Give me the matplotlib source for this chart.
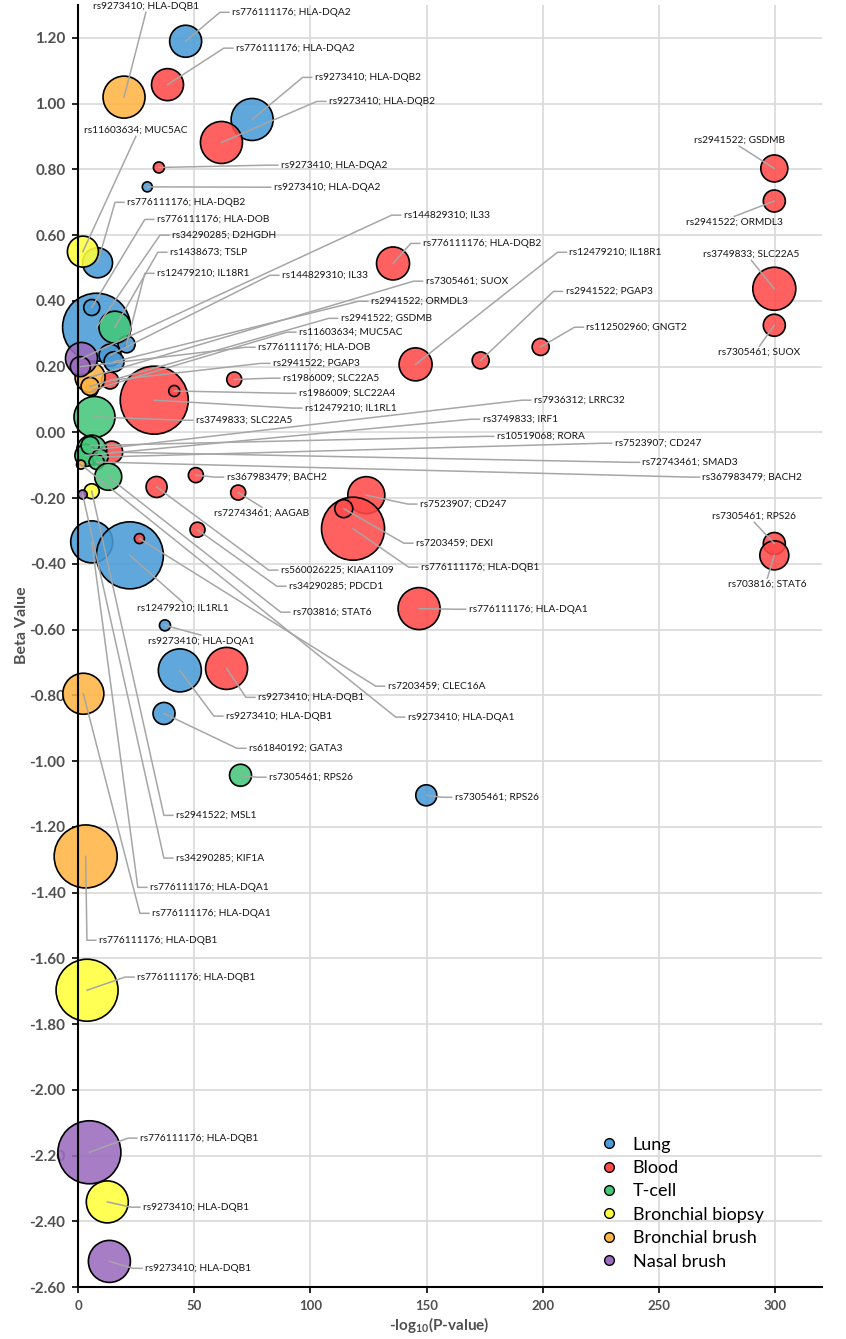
import numpy as np
import matplotlib
matplotlib.use("Agg")
import matplotlib.pyplot as plt
from matplotlib.lines import Line2D

plt.rcParams['font.family'] = ['Lato', 'DejaVu Sans']
plt.rcParams['axes.unicode_minus'] = False
plt.rcParams['mathtext.fontset'] = 'custom'
plt.rcParams['mathtext.rm'] = 'Lato'
plt.rcParams['mathtext.bf'] = 'Lato:bold'

# DATA: -log10(P), beta, bubble size, SNP; gene
tissues = ["Lung", "Blood", "T-cell", "Bronchial biopsy", "Bronchial brush", "Nasal brush"]
colors = ["#4A9BD6", "#FF4A4A", "#45C77A", "#FFFF3C", "#FFB444", "#9B6BBE"]

lung_x = [46.3, 74.9, 29.8, 8.4, 8.0, 5.9, 20.9, 13.8, 15.5, 5.9, 5.9, 22.3, 37.4, 43.8, 37.0, 149.8]
lung_y = [1.19, 0.952, 0.747, 0.516, 0.32, 0.38, 0.268, 0.235, 0.215, 0.128, -0.333, -0.374, -0.587,
          -0.724, -0.855, -1.104]
lung_size = [32, 42, 10, 30, 68, 16, 17, 22, 20, 12, 42, 67, 11, 43, 22, 21]
lung_snp = ["rs776111176; HLA-DQA2", "rs9273410; HLA-DQB2", "rs9273410; HLA-DQA2", "rs776111176; HLA-DQB2",
            "rs34290285; D2HGDH", "rs776111176; HLA-DOB", "rs12479210; IL18R1", "rs144829310; IL33",
            "rs2941522; ORMDL3", "rs11603634; MUC5AC", "rs776111176; HLA-DQA1", "rs12479210; IL1RL1",
            "rs9273410; HLA-DQA1", "rs9273410; HLA-DQB1", "rs61840192; GATA3", "rs7305461; RPS26"]

blood_x = [38.5, 61.7, 34.8, 299.5, 299.5, 299.5, 299.5, 135.5, 145.2, 173.2, 199.0, 67.2, 32.8, 41.4,
           13.8, 50.7, 33.8, 68.9, 51.4, 26.4, 124.0, 118.3, 114.3, 146.7, 63.9, 299.5, 299.5, 14.5]
blood_y = [1.058, 0.882, 0.806, 0.803, 0.704, 0.437, 0.326, 0.514, 0.207, 0.219, 0.260, 0.161, 0.098,
           0.126, 0.158, -0.130, -0.166, -0.183, -0.296, -0.323, -0.191, -0.293, -0.232, -0.536, -0.718,
           -0.338, -0.374, -0.060]
blood_size = [32, 42, 11, 27, 22, 43, 22, 33, 33, 17, 17, 15, 68, 11, 17, 15, 21, 15, 15, 10, 37, 63, 18,
              42, 42, 22, 29, 22]
blood_snp = ["rs776111176; HLA-DQA2", "rs9273410; HLA-DQB2", "rs9273410; HLA-DQA2", "rs2941522; GSDMB",
             "rs2941522; ORMDL3", "rs3749833; SLC22A5", "rs7305461; SUOX", "rs776111176; HLA-DQB2",
             "rs12479210; IL18R1", "rs2941522; PGAP3", "rs112502960; GNGT2", "rs1986009; SLC22A5",
             "rs12479210; IL1RL1", "rs1986009; SLC22A4", "rs2941522; PGAP3", "rs367983479; BACH2",
             "rs560026225; KIAA1109", "rs72743461; AAGAB", "rs34290285; PDCD1", "rs7203459; CLEC16A",
             "rs7523907; CD247", "rs776111176; HLA-DQB1", "rs7203459; DEXI", "rs776111176; HLA-DQA1",
             "rs9273410; HLA-DQB1", "rs7305461; RPS26", "rs703816; STAT6", "rs72743461; SMAD3"]

tcell_x = [15.9, 7.1, 5.9, 3.4, 5.2, 9.5, 8.0, 13.0, 69.9]
tcell_y = [0.320, 0.047, -0.054, -0.070, -0.040, -0.075, -0.090, -0.135, -1.043]
tcell_size = [32, 41, 30, 22, 18, 16, 15, 27, 22]
tcell_snp = ["rs1438673; TSLP", "rs3749833; SLC22A5", "rs7936312; LRRC32", "rs3749833; IRF1",
             "rs10519068; RORA", "rs7523907; CD247", "rs367983479; BACH2", "rs703816; STAT6",
             "rs7305461; RPS26"]

biopsy_x = [2.1, 5.9, 3.9, 12.6]
biopsy_y = [0.550, -0.179, -1.697, -2.341]
biopsy_size = [31, 15, 62, 42]
biopsy_snp = ["rs11603634; MUC5AC", "rs2941522; MSL1", "rs776111176; HLA-DQB1", "rs9273410; HLA-DQB1"]

brush_x = [19.8, 5.2, 5.2, 1.3, 2.3, 3.3]
brush_y = [1.020, 0.168, 0.140, -0.098, -0.795, -1.290]
brush_size = [42, 30, 18, 9, 41, 63]
brush_snp = ["rs9273410; HLA-DQB1", "rs7305461; SUOX", "rs2941522; GSDMB", "rs9273410; HLA-DQA1",
             "rs776111176; HLA-DQA1", "rs776111176; HLA-DQB1"]

nasal_x = [1.5, 1.0, 2.0, 4.9, 13.5]
nasal_y = [0.225, 0.200, -0.189, -2.190, -2.522]
nasal_size = [32, 20, 9, 63, 42]
nasal_snp = ["rs144829310; IL33", "rs776111176; HLA-DOB", "rs34290285; KIF1A", "rs776111176; HLA-DQB1",
             "rs9273410; HLA-DQB1"]

# label placement (data coords of text anchor, l=left of text, a=above bubble, b=below)
lung_lab = [(66.2, 1.278, 'l'), (101.8, 1.080, 'l'), (84.2, 0.746, 'l'), (21.1, 0.700, 'l'),
            (40.4, 0.600, 'l'), (33.9, 0.648, 'l'), (33.9, 0.484, 'l'), (87.7, 0.478, 'l'),
            (125.9, 0.399, 'l'), (95.0, 0.305, 'l'), (30.9, -1.384, 'l'), (45.1, -0.535, 'b'),
            (52.9, -0.635, 'b'), (63.6, -0.863, 'l'), (73.5, -0.961, 'l'), (162.0, -1.110, 'l')]
blood_lab = [(67.9, 1.169, 'l'), (107.9, 1.007, 'l'), (87.2, 0.813, 'l'), (284.5, 0.889, 'a'),
             (282.3, 0.639, 'b'), (289.6, 0.542, 'a'), (293.1, 0.244, 'b'), (148.3, 0.575, 'l'),
             (211.4, 0.548, 'l'), (209.7, 0.429, 'l'), (218.7, 0.320, 'l'), (88.1, 0.165, 'l'),
             (97.6, 0.074, 'l'), (95.0, 0.119, 'l'), (83.8, 0.210, 'l'), (63.9, -0.136, 'l'),
             (87.2, -0.419, 'l'), (79.1, -0.246, 'b'), (90.7, -0.468, 'l'), (133.2, -0.772, 'l'),
             (147.0, -0.218, 'l'), (147.4, -0.410, 'l'), (145.3, -0.337, 'l'), (168.0, -0.538, 'l'),
             (77.4, -0.806, 'l'), (290.9, -0.255, 'a'), (296.5, -0.462, 'b'), (242.8, -0.091, 'l')]
tcell_lab = [(39.5, 0.548, 'l'), (50.7, 0.037, 'l'), (196.0, 0.098, 'l'), (174.0, 0.040, 'l'),
             (180.1, -0.012, 'l'), (230.8, -0.033, 'l'), (268.6, -0.136, 'l'), (92.4, -0.547, 'l'),
             (82.1, -1.049, 'l')]
biopsy_lab = [(24.9, 0.919, 'a'), (42.1, -1.165, 'l'), (25.4, -1.657, 'l'), (27.9, -2.357, 'l')]
brush_lab = [(29.2, 1.296, 'a'), (149.5, 0.460, 'l'), (113.0, 0.347, 'l'), (141.8, -0.866, 'l'),
             (31.8, -1.463, 'l'), (9.0, -1.545, 'l')]
nasal_lab = [(140.1, 0.661, 'l'), (77.4, 0.259, 'l'), (42.1, -1.295, 'l'), (26.6, -2.147, 'l'),
             (28.8, -2.543, 'l')]

series = [
    (lung_x, lung_y, lung_size, lung_snp, lung_lab),
    (blood_x, blood_y, blood_size, blood_snp, blood_lab),
    (tcell_x, tcell_y, tcell_size, tcell_snp, tcell_lab),
    (biopsy_x, biopsy_y, biopsy_size, biopsy_snp, biopsy_lab),
    (brush_x, brush_y, brush_size, brush_snp, brush_lab),
    (nasal_x, nasal_y, nasal_size, nasal_snp, nasal_lab),
]

fig = plt.figure(figsize=(8.46, 13.39), dpi=100)
ax = fig.add_axes([0.0922, 0.0388, 0.8794, 0.9574])
ax.set_xlim(0, 320)
ax.set_ylim(-2.6, 1.3)

ax.grid(True, color="#D9D9D9", lw=1.2)
ax.set_axisbelow(True)
for s in ["top", "right"]:
    ax.spines[s].set_visible(False)
for s in ["left", "bottom"]:
    ax.spines[s].set_linewidth(1.5)

xt = np.arange(0, 301, 50)
ax.set_xticks(xt, labels=[str(v) for v in xt], fontweight="bold", fontsize=9.5)
yt = np.round(np.arange(-2.6, 1.21, 0.2), 2)
ax.set_yticks(yt, labels=[f"{v + 0.0:.2f}" for v in yt], fontweight="bold", fontsize=11)
ax.tick_params(length=4, width=1.2, labelcolor="#505050")
ax.tick_params(axis="x", pad=5)
ax.tick_params(axis="y", pad=5)

ax.set_xlabel(r"-log$_{\mathbf{10}}$(P-value)", fontweight="bold", fontsize=11, color="#505050")
ax.set_ylabel("Beta Value", fontweight="bold", fontsize=11.5, color="#505050")
ax.xaxis.set_label_coords(0.485, -0.022)
ax.yaxis.set_label_coords(-0.066, 0.516)

to_px = ax.transData.transform
to_data = ax.transData.inverted().transform

for (xs, ys, sz, names, lab), col in zip(series, colors):
    ax.scatter(xs, ys, s=(np.array(sz) * 0.72) ** 2, facecolor=matplotlib.colors.to_rgba(col, 0.88),
               edgecolor="black", linewidth=1.2, zorder=2, clip_on=False)

# leader lines + labels on top of all bubbles
for xs, ys, sz, names, lab in series:
    for x, y, name, (tx, ty, mode) in zip(xs, ys, names, lab):
        cx, cy = to_px((x, y))
        lx, ly = to_px((tx, ty))
        if mode == 'l':
            pts = [(cx, cy), (lx - 12, ly), (lx - 3, ly)]
            ha = "left"
        elif mode == 'a':
            pts = [(cx, cy), (lx, ly - 6)]
            ha = "center"
        else:
            pts = [(cx, cy), (lx, ly + 6)]
            ha = "center"
        pts = to_data(pts)
        ax.plot(pts[:, 0], pts[:, 1], color="#A6A6A6", lw=1.1, zorder=3, clip_on=False)
        ax.text(tx, ty, name, ha=ha, va="center", fontsize=7.3, color="#141414", zorder=4)

handles = [Line2D([], [], marker="o", ls="", markersize=7, markerfacecolor=c, markeredgecolor="black",
                  markeredgewidth=1) for c in colors]
ax.legend(handles, tissues, loc="upper left", bbox_to_anchor=(0.68, 0.123), frameon=False,
          fontsize=13, labelspacing=0.41, handletextpad=0.3, borderaxespad=0)

plt.savefig("out.png", dpi=100)
